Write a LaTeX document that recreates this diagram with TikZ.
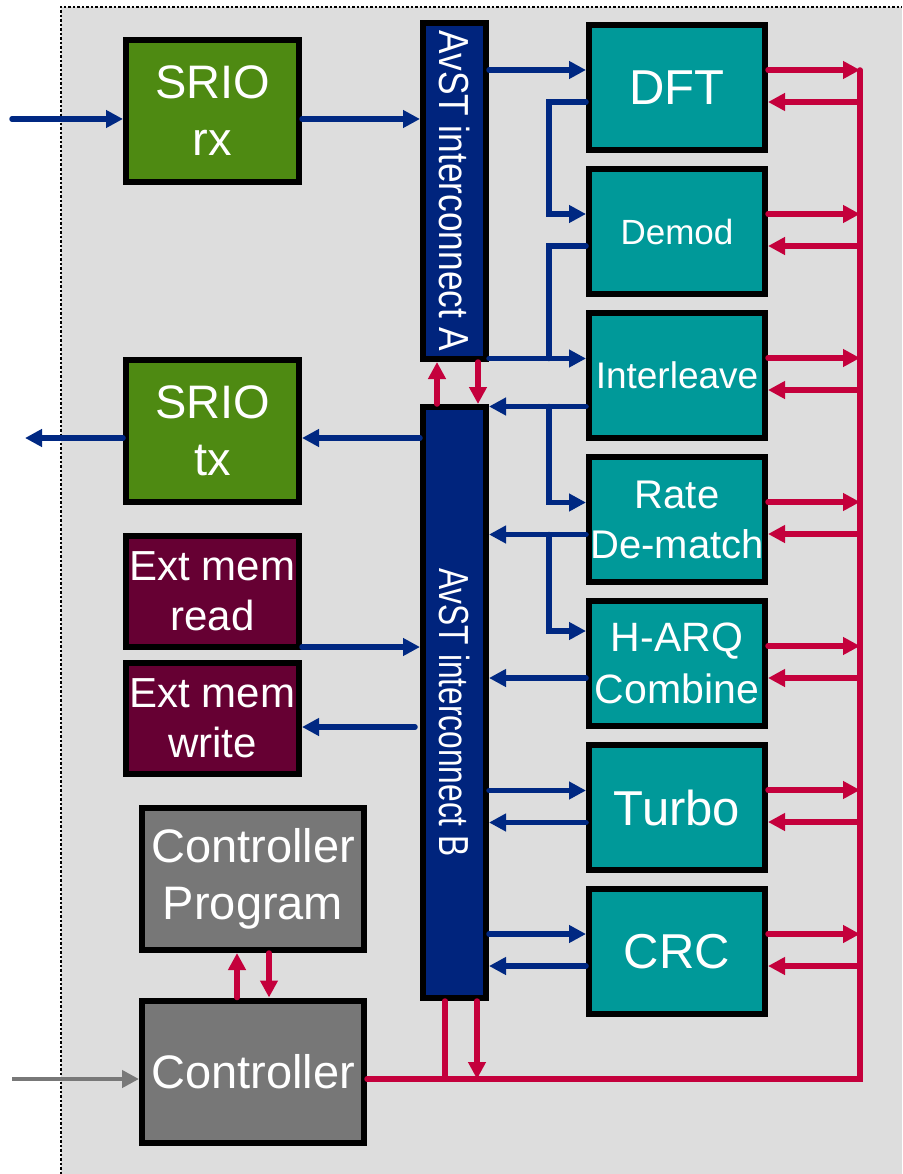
\documentclass[tikz,border=0pt]{standalone}
\usepackage{fontspec}
\setmainfont{Liberation Sans}
\usetikzlibrary{arrows.meta, positioning}
\definecolor{bggray}{RGB}{221,221,221}
\definecolor{srioGreen}{RGB}{78,138,18}
\definecolor{memMaroon}{RGB}{102,0,51}
\definecolor{procTeal}{RGB}{0,153,153}
\definecolor{avstNavy}{RGB}{0,36,125}
\definecolor{ctrlGray}{RGB}{119,119,119}
\definecolor{linkRed}{RGB}{196,0,60}
\definecolor{linkBlue}{RGB}{0,40,130}
\definecolor{inGray}{RGB}{120,120,120}

\begin{document}
\begin{tikzpicture}[x=1pt, y=-1pt, node distance=13pt,
    block/.style={rectangle, draw=black, line width=6pt, text=white, inner sep=0pt, outer sep=3pt, align=center},
    proc/.style={block, fill=procTeal, minimum width=176pt, minimum height=125pt},
    srio/.style={block, fill=srioGreen, minimum width=173pt, minimum height=142pt, font=\fontsize{47}{57}\selectfont},
    extmem/.style={block, fill=memMaroon, minimum width=173pt, minimum height=111pt, font=\fontsize{42}{50}\selectfont},
    ctrlbox/.style={block, fill=ctrlGray, minimum width=222pt, minimum height=142pt, font=\fontsize{47}{57}\selectfont},
    avst/.style={block, fill=avstNavy, minimum width=63pt},
    avtext/.style={rotate=-90, text=white, inner sep=0pt, font=\fontsize{42}{42}\selectfont},
    bluearrow/.style={-{Triangle[length=17pt,width=17pt]}, line width=5.5pt, draw=linkBlue, line cap=round},
    blueline/.style={line width=5.5pt, draw=linkBlue, line cap=round},
    redarrow/.style={-{Triangle[length=17pt,width=17pt]}, line width=5.5pt, draw=linkRed, line cap=round},
    redline/.style={line width=5.5pt, draw=linkRed, line cap=round},
    grayarrow/.style={-{Triangle[length=17pt,width=17pt]}, line width=4.5pt, draw=inGray}]

    \useasboundingbox (0,0) rectangle (902,1174);
    \fill[bggray] (61,7) rectangle (902,1174);
    \draw[line width=2.5pt, dash pattern=on 2.5pt off 2pt] (61,1174) -- (61,7) -- (902,7);

    % left column
    \node[srio] (srx) at (212.5,111) {SRIO\\rx};
    \node[srio] (stx) at (212.5,431) {SRIO\\tx};
    \node[extmem] (emr) at (212.5,591.5) {Ext mem\\read};
    \node[extmem] (emw) at (212.5,718.5) {Ext mem\\write};
    \node[ctrlbox] (cprog) at (253,879) {Controller\\Program};
    \node[ctrlbox] (ctrl) at (253,1071.5) {Controller};

    % interconnects
    \node[avst, minimum height=336pt, label={[avtext]center:\scalebox{0.84}[1]{AvST interconnect A}}] (avA) at (454.5,191) {};
    \node[avst, minimum height=591pt, label={[yshift=-10pt, avtext]center:\scalebox{0.755}[1]{AvST interconnect B}}] (avB) at (454.5,702.5) {};

    % processing chain
    \node[proc, font=\fontsize{49}{59}\selectfont] (dft) at (677,87.5) {DFT};
    \node[proc, below=of dft, font=\fontsize{35}{42}\selectfont] (demod) {Demod};
    \node[proc, below=of demod, font=\fontsize{37}{44}\selectfont] (inter) {Interleave};
    \node[proc, below=of inter, font=\fontsize{40}{50}\selectfont] (rate) {Rate\\De-match};
    \node[proc, below=of rate, font=\fontsize{41}{52}\selectfont] (harq) {H-ARQ\\Combine};
    \node[proc, below=of harq, font=\fontsize{49}{59}\selectfont] (turbo) {Turbo};
    \node[proc, below=of turbo, font=\fontsize{49}{59}\selectfont] (crc) {CRC};

    \coordinate (bust) at (860,70);
    \coordinate (busb) at (860,1079);
    \coordinate (spl) at (549,0);

    % red control bus
    \draw[redline] (busb -| ctrl.east) -- (busb) -- (bust);
    \foreach \b in {dft,demod,inter,rate,harq,turbo,crc} {
        \coordinate (o) at ([yshift=17.5pt]\b.east);
        \coordinate (i) at ([yshift=-14.5pt]\b.east);
        \draw[redarrow] (o) -- (o -| bust);
        \draw[redarrow] (i -| bust) -- (i);
    }
    \coordinate (aup) at ([xshift=-17.5pt]avB.north);
    \coordinate (adn) at ([xshift=23.5pt]avA.south);
    \draw[redarrow] (aup) -- (aup |- avA.south);
    \draw[redarrow] (adn) -- (adn |- avB.north);
    \coordinate (bup) at ([xshift=-9.5pt]avB.south);
    \coordinate (bdn) at ([xshift=22.5pt]avB.south);
    \draw[redline] (bup) -- (bup |- busb);
    \draw[redarrow] (bdn) -- (bdn |- busb);
    \coordinate (cup) at ([xshift=-16pt]ctrl.north);
    \coordinate (cdn) at ([xshift=16pt]cprog.south);
    \draw[redarrow] (cup) -- (cup |- cprog.south);
    \draw[redarrow] (cdn) -- (cdn |- ctrl.north);

    % blue data paths
    \coordinate (dftin) at ([yshift=17.5pt]dft.west);
    \coordinate (dftout) at ([yshift=-14.5pt]dft.west);
    \coordinate (demodin) at ([yshift=17.5pt]demod.west);
    \coordinate (demodout) at ([yshift=-14.5pt]demod.west);
    \coordinate (interin) at ([yshift=17pt]inter.west);
    \coordinate (interout) at ([yshift=-31pt]inter.west);
    \coordinate (ratein) at ([yshift=17pt]rate.west);
    \coordinate (rateout) at ([yshift=-15pt]rate.west);
    \coordinate (harqin) at ([yshift=32.5pt]harq.west);
    \coordinate (harqout) at ([yshift=-14.5pt]harq.west);
    \coordinate (turboin) at ([yshift=17pt]turbo.west);
    \coordinate (turboout) at ([yshift=-15pt]turbo.west);
    \coordinate (crcin) at ([yshift=17.5pt]crc.west);
    \coordinate (crcout) at ([yshift=-14.5pt]crc.west);

    \draw[bluearrow] (dftin -| avA.east) -- (dftin);
    \draw[bluearrow] (dftout) -- (dftout -| spl) -- (demodin -| spl) -- (demodin);
    \draw[blueline] (demodout) -- (demodout -| spl) -- (interin -| spl);
    \draw[bluearrow] (interin -| avA.east) -- (interin);
    \draw[bluearrow] (interout) -- (interout -| avB.east);
    \draw[bluearrow] (interout -| spl) -- (ratein -| spl) -- (ratein);
    \draw[bluearrow] (rateout) -- (rateout -| avB.east);
    \draw[bluearrow] (rateout -| spl) -- (harqin -| spl) -- (harqin);
    \draw[bluearrow] (harqout) -- (harqout -| avB.east);
    \draw[bluearrow] (turboin -| avB.east) -- (turboin);
    \draw[bluearrow] (turboout) -- (turboout -| avB.east);
    \draw[bluearrow] (crcin -| avB.east) -- (crcin);
    \draw[bluearrow] (crcout) -- (crcout -| avB.east);

    \coordinate (rxsrc) at (12,119);
    \draw[bluearrow] (rxsrc) -- (rxsrc -| srx.west);
    \draw[bluearrow] (rxsrc -| srx.east) -- (rxsrc -| avA.west);
    \coordinate (txdst) at (25,438);
    \draw[bluearrow] (txdst -| avB.west) -- (txdst -| stx.east);
    \draw[bluearrow] (txdst -| stx.west) -- (txdst);
    \coordinate (rd) at ([yshift=-55.5pt]emr.east);
    \draw[bluearrow] (rd) -- (rd -| avB.west);
    \coordinate (wr) at (415,727);
    \draw[bluearrow] (wr) -- (wr -| emw.east);

    \coordinate (ctlsrc) at (12,1079);
    \draw[grayarrow] (ctlsrc) -- (ctlsrc -| ctrl.west);
\end{tikzpicture}
\end{document}
